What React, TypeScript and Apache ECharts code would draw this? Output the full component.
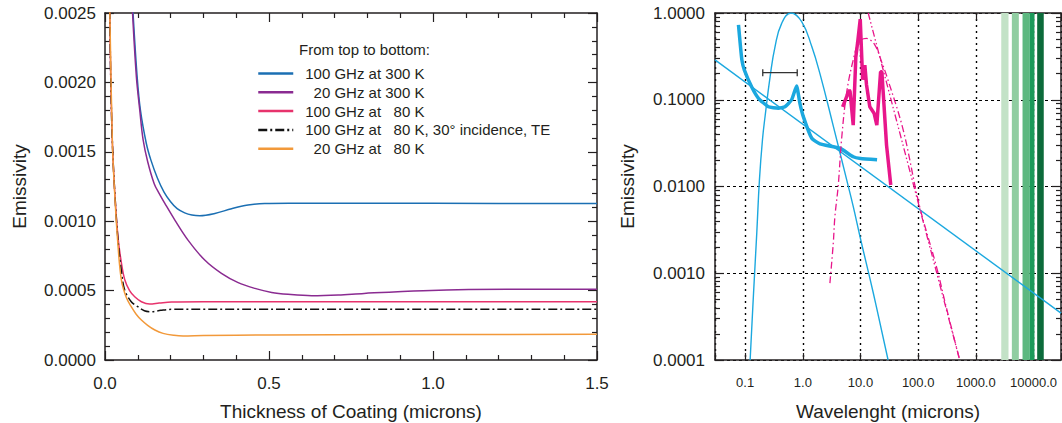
import React, { useEffect, useRef } from 'react';
import * as echarts from 'echarts';

const FONT = '"Liberation Sans", Arial, Helvetica, sans-serif';
const INK = '#231f20';

// ---------- Left panel data: emissivity vs coating thickness ----------
const thicknessRange = [0, 1.5];
const emissivityRange = [0, 0.0025];

const ghz100K300 = [
  [0.085, 0.00252], [0.098, 0.00204], [0.108, 0.0018], [0.126, 0.00156], [0.14, 0.00144],
  [0.16, 0.00131], [0.18, 0.00121], [0.2, 0.00114], [0.22, 0.00109], [0.243, 0.00106],
  [0.265, 0.001045], [0.289, 0.00104], [0.335, 0.001056], [0.386, 0.00109], [0.436, 0.001116],
  [0.487, 0.001128], [0.56, 0.00113], [0.8, 0.00113], [1.2, 0.001128], [1.5, 0.001128],
];
const ghz20K300 = [
  [0.0835, 0.00252], [0.0957, 0.00204], [0.106, 0.0018], [0.116, 0.00159], [0.13, 0.00143],
  [0.15, 0.00127], [0.165, 0.0012], [0.182, 0.00113], [0.213, 0.001008], [0.253, 0.000864],
  [0.304, 0.00072], [0.355, 0.000624], [0.406, 0.000557], [0.457, 0.000516], [0.508, 0.000487],
  [0.558, 0.000473], [0.63, 0.000463], [0.711, 0.000468], [0.79, 0.00048], [0.97, 0.000499],
  [1.225, 0.000509], [1.5, 0.000509],
];
const ghz100K80 = [
  [0.0146, 0.00252], [0.0174, 0.00204], [0.0226, 0.00156], [0.03, 0.0012], [0.0398, 0.00088],
  [0.05, 0.0007], [0.06, 0.00058], [0.075, 0.0005], [0.0906, 0.000456], [0.111, 0.00042],
  [0.136, 0.000403], [0.165, 0.00041], [0.2025, 0.000418], [0.3, 0.00042], [0.8, 0.00042],
  [1.5, 0.00042],
];
const ghz100K80TE = [
  [0.0146, 0.00252], [0.0174, 0.00204], [0.0226, 0.00156], [0.03, 0.0012], [0.0398, 0.00086],
  [0.05, 0.00064], [0.06, 0.000504], [0.08, 0.00042], [0.1, 0.000384], [0.12, 0.000355],
  [0.141, 0.000348], [0.17, 0.000358], [0.2025, 0.000365], [0.5, 0.000365], [1.5, 0.000365],
];
const ghz20K80 = [
  [0.0146, 0.00252], [0.0226, 0.00156], [0.03, 0.00118], [0.0398, 0.00082], [0.05, 0.000576],
  [0.065, 0.00045], [0.08, 0.000384], [0.095, 0.00033], [0.111, 0.000288], [0.13, 0.00025],
  [0.152, 0.000216], [0.177, 0.000192], [0.21, 0.000178], [0.238, 0.000173], [0.3, 0.000176],
  [0.5, 0.00018], [0.9, 0.000183], [1.5, 0.000185],
];

const legendNames = [
  '100 GHz at 300 K',
  '\u00a0\u00a020 GHz at 300 K',
  '100 GHz at \u00a0\u00a080 K',
  '100 GHz at \u00a0\u00a080 K, 30\u00b0 incidence, TE',
  '\u00a0\u00a020 GHz at \u00a0\u00a080 K',
];

// ---------- Right panel data: emissivity vs wavelength ----------
const wavelengthRange = [0.03, 30000];
const logEmissivityRange = [0.0001, 1];

const powerLaw = [[0.03, 0.288], [30000, 0.000347]];
const blackbodyCyan = [
  [0.122, 0.0001], [0.14, 0.0006], [0.159, 0.0029], [0.177, 0.012], [0.2, 0.035], [0.222, 0.065],
  [0.271, 0.185], [0.33, 0.41], [0.43, 0.76], [0.625, 1.0], [0.96, 0.79], [1.43, 0.41],
  [1.98, 0.2], [3.37, 0.05], [5.75, 0.012], [7.48, 0.0059], [10, 0.0025], [16.6, 0.0006], [30.1, 0.0001],
];
const measuredCyan = [
  [0.0766, 0.73], [0.0877, 0.288], [0.097, 0.22], [0.13, 0.14], [0.17, 0.104], [0.253, 0.083],
  [0.377, 0.08], [0.49, 0.083], [0.64, 0.1], [0.78, 0.144], [0.89, 0.091], [1.02, 0.064],
  [1.43, 0.036], [1.98, 0.031], [4.4, 0.0276], [7.48, 0.022], [10, 0.021], [19.4, 0.0203],
];
const errorBar = [[0.202, 0.205], [0.8, 0.205]];
const measuredMagenta = [
  [4.9, 0.083], [5.6, 0.104], [6.4, 0.13], [6.6, 0.124], [7.48, 0.051], [8.3, 0.31], [8.9, 0.45],
  [9.9, 0.85], [10.9, 0.17], [11.9, 0.25], [12.7, 0.15], [14.5, 0.083], [17.2, 0.07], [19.2, 0.051],
  [22.3, 0.21], [23.5, 0.21], [28.3, 0.03], [33.5, 0.0104],
];
const modelMagenta = [
  [2.95, 0.00077], [3.37, 0.0022], [3.6, 0.0045], [4.11, 0.0102], [4.7, 0.035], [5.73, 0.119],
  [7.48, 0.288], [9.5, 0.47], [12.7, 0.51], [17.7, 0.43], [23.2, 0.275], [28.3, 0.19], [55, 0.045],
  [104, 0.0062], [207, 0.0012], [309, 0.0004], [525, 0.0001],
];
const powerLawMagenta = [[13.6, 1.0], [525, 0.0001]];

const bandEdges = [[2761, 3690], [4217, 5570], [6457, 8630], [8630, 10400], [11590, 15070]];
const bandColors = ['#c3e2c7', '#90cda1', '#5db880', '#1b9a5a', '#0c6b3b'];

const isDecade = (v: number) => {
  const l = Math.log10(v);
  return Math.abs(l - Math.round(l)) < 1e-6;
};

const frameLine = { show: true, onZero: false, lineStyle: { color: INK, width: 1.5 } };
const tickStyle = { color: INK, width: 1.2 };

export default function App() {
  const ref = useRef<HTMLDivElement>(null);

  useEffect(() => {
    if (!ref.current) return;
    const chart = echarts.init(ref.current, null, { renderer: 'svg' });

    const linValX = (position: string, withLabels: boolean) => ({
      gridIndex: 0,
      type: 'value',
      position,
      min: thicknessRange[0],
      max: thicknessRange[1],
      interval: 0.5,
      axisLine: frameLine,
      axisTick: { show: true, inside: true, length: 9, lineStyle: tickStyle },
      minorTick: { show: true, splitNumber: 5, length: 5, lineStyle: tickStyle },
      axisLabel: withLabels
        ? { show: true, fontSize: 17, color: INK, fontFamily: FONT, margin: 15, formatter: (v: number) => v.toFixed(1) }
        : { show: false },
      splitLine: { show: false },
      ...(withLabels
        ? {
            name: 'Thickness of Coating (microns)',
            nameLocation: 'middle',
            nameGap: 42,
            nameTextStyle: { fontSize: 19, color: INK, fontFamily: FONT },
          }
        : {}),
    });

    const linValY = (position: string, withLabels: boolean) => ({
      gridIndex: 0,
      type: 'value',
      position,
      min: emissivityRange[0],
      max: emissivityRange[1],
      interval: 0.0005,
      axisLine: frameLine,
      axisTick: { show: true, inside: true, length: 9, lineStyle: tickStyle },
      minorTick: { show: true, splitNumber: 5, length: 5, lineStyle: tickStyle },
      axisLabel: withLabels
        ? { show: true, fontSize: 17, color: INK, fontFamily: FONT, margin: 9, formatter: (v: number) => v.toFixed(4) }
        : { show: false },
      splitLine: { show: false },
      ...(withLabels
        ? {
            name: 'Emissivity',
            nameLocation: 'middle',
            nameGap: 76,
            nameTextStyle: { fontSize: 19, color: INK, fontFamily: FONT },
          }
        : {}),
    });

    const logX = (position: string, withLabels: boolean) => ({
      gridIndex: 1,
      type: 'log',
      position,
      min: wavelengthRange[0],
      max: wavelengthRange[1],
      axisLine: frameLine,
      axisTick: { show: true, inside: true, length: 7, lineStyle: tickStyle },
      axisLabel: withLabels
        ? {
            show: true, fontSize: 13, color: INK, fontFamily: FONT, margin: 16,
            formatter: (v: number) => (isDecade(v) ? v.toFixed(1) : ''),
          }
        : { show: false },
      splitLine: withLabels
        ? { show: true, lineStyle: { color: '#000', width: 1.4, type: [2, 4] } }
        : { show: false },
      ...(withLabels
        ? {
            name: 'Wavelenght (microns)',
            nameLocation: 'middle',
            nameGap: 42,
            nameTextStyle: { fontSize: 19, color: INK, fontFamily: FONT },
          }
        : {}),
    });

    const logY = (position: string, withLabels: boolean) => ({
      gridIndex: 1,
      type: 'log',
      position,
      min: logEmissivityRange[0],
      max: logEmissivityRange[1],
      axisLine: frameLine,
      axisTick: { show: true, inside: true, length: 9, lineStyle: tickStyle },
      minorTick: { show: true, splitNumber: 9, length: 5, lineStyle: tickStyle },
      axisLabel: withLabels
        ? {
            show: true, fontSize: 17, color: INK, fontFamily: FONT, margin: 10,
            formatter: (v: number) => (isDecade(v) ? v.toFixed(4) : ''),
          }
        : { show: false },
      splitLine: withLabels
        ? { show: true, lineStyle: { color: '#000', width: 1.2, type: [3, 3] } }
        : { show: false },
      ...(withLabels
        ? {
            name: 'Emissivity',
            nameLocation: 'middle',
            nameGap: 78,
            nameTextStyle: { fontSize: 19, color: INK, fontFamily: FONT },
          }
        : {}),
    });

    const leftLine = (name: string, data: number[][], color: string, type: any = 'solid') => ({
      name,
      type: 'line',
      xAxisIndex: 0,
      yAxisIndex: 0,
      data,
      symbol: 'none',
      smooth: 0.35,
      clip: true,
      z: 3,
      lineStyle: { color, width: 1.5, type },
      itemStyle: { color },
    });

    const rightLine = (data: number[][], color: string, width: number, type: any = 'solid', smooth: any = false) => ({
      type: 'line',
      xAxisIndex: 2,
      yAxisIndex: 2,
      data,
      symbol: 'none',
      smooth,
      clip: true,
      z: 3,
      silent: true,
      lineStyle: { color, width, type },
    });

    const cyan = '#1ba8df';
    const magenta = '#e8168b';

    chart.setOption({
      animation: false,
      backgroundColor: '#ffffff',
      textStyle: { fontFamily: FONT },
      grid: [
        { left: 105, top: 13, right: 465, bottom: 63, outerBoundsMode: 'none', containLabel: false },
        { left: 715, top: 13, right: 1, bottom: 63, outerBoundsMode: 'none', containLabel: false },
      ],
      xAxis: [linValX('bottom', true), linValX('top', false), logX('bottom', true), logX('top', false)],
      yAxis: [linValY('left', true), linValY('right', false), logY('left', true), logY('right', false)],
      legend: {
        data: legendNames,
        orient: 'vertical',
        left: 252,
        top: 61,
        itemWidth: 35,
        itemHeight: 14,
        itemGap: 3.8,
        selectedMode: false,
        lineStyle: { width: 2.5 },
        itemStyle: { opacity: 0 },
        textStyle: { fontSize: 15, color: INK, fontFamily: FONT, padding: [0, 0, 0, 7] },
      },
      graphic: [
        {
          type: 'text',
          left: 299,
          top: 42,
          style: { text: 'From top to bottom:', font: `15px ${FONT}`, fill: INK },
        },
      ],
      series: [
        leftLine(legendNames[0], ghz100K300, '#1b6fb3'),
        leftLine(legendNames[1], ghz20K300, '#8a2b91'),
        leftLine(legendNames[2], ghz100K80, '#e7336c'),
        leftLine(legendNames[3], ghz100K80TE, '#111111', [9, 3, 2, 3]),
        leftLine(legendNames[4], ghz20K80, '#f2993a'),
        {
          type: 'line',
          xAxisIndex: 2,
          yAxisIndex: 2,
          data: [],
          z: 1,
          silent: true,
          markArea: {
            silent: true,
            data: bandEdges.map((b, i) => [
              { xAxis: b[0], itemStyle: { color: bandColors[i], opacity: 1 } },
              { xAxis: b[1] },
            ]),
          },
        },
        rightLine(powerLaw, cyan, 1.4),
        rightLine(blackbodyCyan, cyan, 1.4, 'solid', 0.45),
        rightLine(measuredCyan, cyan, 3.5, 'solid', 0.15),
        {
          type: 'line',
          xAxisIndex: 2,
          yAxisIndex: 2,
          data: errorBar,
          symbol: 'rect',
          symbolSize: [1.3, 7],
          silent: true,
          z: 4,
          itemStyle: { color: '#333' },
          lineStyle: { color: '#333', width: 1.3 },
        },
        rightLine(modelMagenta, magenta, 1.3, [7, 3, 1.5, 3], 0.35),
        rightLine(powerLawMagenta, magenta, 1.3, [7, 2.5, 1.5, 2.5, 1.5, 2.5]),
        rightLine(measuredMagenta, magenta, 3.5),
      ],
    });

    return () => chart.dispose();
  }, []);

  return (
    <div
      ref={ref}
      style={{ position: 'fixed', left: 0, top: 0, width: 1062, height: 423, background: '#fff' }}
    />
  );
}
